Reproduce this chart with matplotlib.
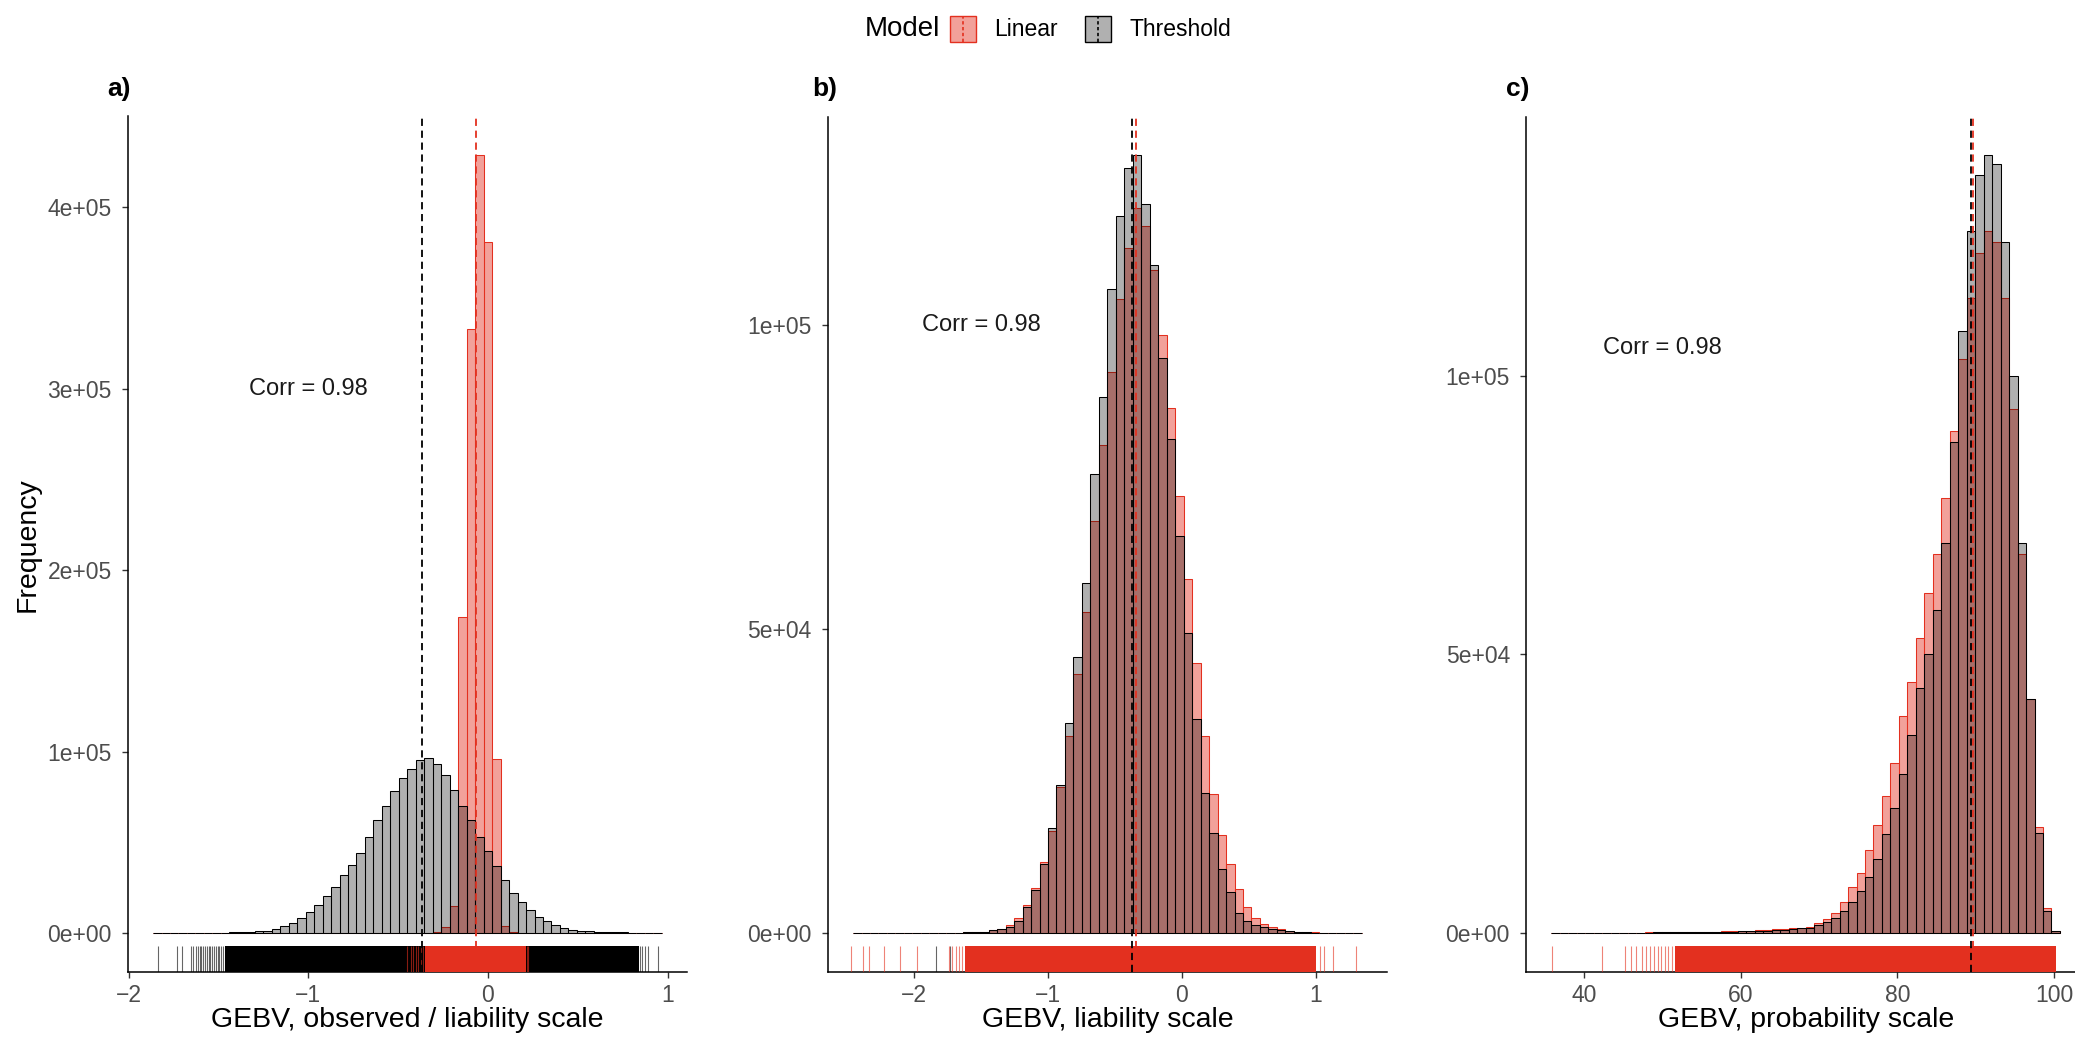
import numpy as np
import matplotlib.pyplot as plt
from matplotlib.colors import to_rgba
from matplotlib.patches import Rectangle
from matplotlib.lines import Line2D
from matplotlib.ticker import FuncFormatter

plt.rcParams['font.family'] = ['Liberation Sans', 'DejaVu Sans']

RED = '#E3301F'
W, H = 2075, 1038

# histogram counts are in thousands, 60 equal bins spanning each range
# a) linear model on observed scale vs threshold model on liability scale
range_a = (-1.864, 0.967)
linear_a = [0, 0, 0, 0, 0, 0, 0, 0, 0, 0,
            0, 0, 0, 0, 0, 0, 0, 0, 0, 0,
            0, 0, 0, 0, 0, 0, 0, 0, 0, 0,
            0, 0, 0.1, 0.5, 3, 15, 174, 333, 428.6, 381,
            96, 4, 0.6, 0.15, 0.05, 0, 0, 0, 0, 0,
            0, 0, 0, 0, 0, 0, 0, 0, 0, 0]
threshold_a = [0.01, 0.02, 0.02, 0.04, 0.05, 0.08, 0.1, 0.15, 0.2, 0.28,
               0.4, 0.6, 0.9, 1.3, 2.1, 3.9, 5.6, 8.2, 11.5, 15.5,
               20.5, 25.5, 32, 37.5, 44, 53, 62, 70, 78, 85.5,
               90.5, 95.5, 96.2, 93, 87, 79, 70, 62, 53, 45,
               37, 29, 22, 17, 12.5, 9.0, 6.3, 4.2, 2.6, 1.7,
               1.1, 0.8, 0.6, 0.45, 0.35, 0.25, 0.18, 0.12, 0.06, 0.03]
means_a = (-0.066, -0.365)   # linear, threshold
corr_a = (-1.0, 3.0e5)
xticks_a = [-2, -1, 0, 1]
yticks_a = [0, 1e5, 2e5, 3e5, 4e5]
rug_thr_a = [-1.839, -1.73, -1.70, -1.655, -1.64, -1.625, -1.615, -1.605, -1.595,
             -1.585, -1.575, -1.565, -1.555, -1.545, -1.535, -1.525, -1.515,
             -1.505, -1.495, -1.485, -1.475, 0.845, 0.86, 0.875, 0.89, 0.946]
band_thr_a = (-1.465, 0.84)
rug_lin_a = [-0.45, -0.43, -0.415, -0.40, -0.39, -0.375, -0.36, 0.215, 0.225]
band_lin_a = (-0.35, 0.21)

# b) both models on the liability scale
range_b = (-2.458, 1.344)
linear_b = [0.01, 0, 0.01, 0.01, 0, 0.01, 0, 0, 0, 0,
            0.01, 0.02, 0.04, 0.07, 0.12, 0.22, 0.4, 0.7, 1.3, 2.5,
            4.6, 7.4, 11.6, 16.8, 24, 32.4, 42.6, 52.8, 67.8, 80.4,
            92.4, 104.4, 112.8, 119.4, 116.4, 109.2, 98.4, 86.4, 72, 58.2,
            44.4, 32.4, 22.8, 16.2, 11.4, 7.2, 4.2, 2.4, 1.4, 0.9,
            0.6, 0.35, 0.2, 0.12, 0.07, 0.04, 0.02, 0.01, 0, 0.01]
threshold_b = [0, 0, 0, 0, 0, 0, 0, 0, 0, 0.01,
               0.01, 0.02, 0.04, 0.08, 0.13, 0.2, 0.4, 0.65, 1.0, 2.0,
               4.2, 7.0, 11.3, 17.3, 24.3, 34.5, 45.4, 57.6, 75.5, 88.3,
               106, 118, 126, 128, 120, 110, 94.7, 81.3, 65.3, 49.3,
               35.2, 23, 16.4, 10.5, 6.7, 3.3, 2.0, 1.3, 0.9, 0.6,
               0.4, 0.25, 0.15, 0.07, 0, 0, 0, 0, 0, 0]
means_b = (-0.341, -0.375)
corr_b = (-1.5, 1.0e5)
xticks_b = [-2, -1, 0, 1]
yticks_b = [0, 5e4, 1e5]
rug_thr_b = [-1.84, -1.73]
band_thr_b = (-1.46, 0.84)
rug_lin_b = [-2.47, -2.38, -2.34, -2.23, -2.11, -1.98, -1.74, -1.715, -1.69,
             -1.665, -1.645, 1.03, 1.06, 1.13, 1.30]
band_lin_b = (-1.62, 1.0)

# c) both models on the probability scale
range_c = (35.85, 100.75)
linear_c = [0.01, 0.01, 0.01, 0.02, 0.02, 0.03, 0.04, 0.04, 0.05, 0.06,
            0.07, 0.08, 0.1, 0.11, 0.13, 0.15, 0.17, 0.19, 0.22, 0.25,
            0.28, 0.32, 0.36, 0.41, 0.47, 0.54, 0.62, 0.72, 0.83, 0.95,
            1.1, 1.8, 2.5, 3.6, 5.5, 8.2, 10.8, 14.8, 19.3, 24.5,
            30.5, 39, 45, 53, 61, 68, 78, 90, 103, 114,
            122, 126, 124, 114, 94, 68, 42, 19, 4.5, 0.3]
threshold_c = [0.01, 0, 0.01, 0.02, 0.01, 0.02, 0.03, 0.03, 0.04, 0.05,
               0.06, 0.07, 0.08, 0.09, 0.1, 0.12, 0.13, 0.15, 0.17, 0.2,
               0.22, 0.25, 0.28, 0.32, 0.36, 0.42, 0.5, 0.58, 0.68, 0.8,
               0.95, 1.4, 1.9, 2.7, 3.9, 5.5, 7.6, 10.0, 13.3, 17.8,
               22.5, 28.5, 35.5, 44, 50, 58, 70, 88, 108, 126,
               136, 139.5, 138, 124, 100, 70, 42, 18, 4, 0.3]
means_c = (89.7, 89.35)
corr_c = (50, 1.05e5)
xticks_c = [40, 60, 80, 100]
yticks_c = [0, 5e4, 1e5]
rug_thr_c = []
band_thr_c = (52.0, 99.8)
rug_lin_c = [35.9, 42.3, 45.2, 46.0, 46.6, 47.4, 47.9, 48.5, 48.9, 49.4,
             49.9, 50.3, 50.8, 51.2]
band_lin_c = (51.6, 100.2)


def sci(v, _):
    return f"{v:.0e}"


def panel(ax, rng, lin, thr, means, corr, xticks, yticks,
          rug_thr, band_thr, rug_lin, band_lin, xlabel):
    lin = np.asarray(lin) * 1e3
    thr = np.asarray(thr) * 1e3
    edges = np.linspace(rng[0], rng[1], len(lin) + 1)
    w = edges[1] - edges[0]
    ax.bar(edges[:-1], lin, width=w, align='edge',
           facecolor=to_rgba(RED, 0.45), edgecolor=RED, linewidth=0.75, zorder=2)
    ax.bar(edges[:-1], thr, width=w, align='edge',
           facecolor=(0, 0, 0, 0.31), edgecolor='black', linewidth=0.75, zorder=2)

    # rug along the bottom of the panel
    tr = ax.get_xaxis_transform()
    ax.axvspan(*band_thr, 0, 0.03, color='black', lw=0, zorder=3)
    if rug_thr:
        ax.vlines(rug_thr, 0, 0.03, transform=tr, colors='black',
                  lw=0.8, alpha=0.6, zorder=3)
    ax.axvspan(*band_lin, 0, 0.03, color=RED, lw=0, zorder=3)
    ax.vlines(rug_lin, 0, 0.03, transform=tr, colors=RED,
              lw=0.8, alpha=0.6, zorder=3)

    ax.axvline(means[0], color=RED, ls=(0, (4, 2.6)), lw=1.3, zorder=4)
    ax.axvline(means[1], color='black', ls=(0, (4, 2.6)), lw=1.3, zorder=4)

    ax.text(corr[0], corr[1], 'Corr = 0.98', ha='center', va='center',
            fontsize=17, color='#1a1a1a')

    span = rng[1] - rng[0]
    ax.set_xlim(rng[0] - 0.05 * span, rng[1] + 0.05 * span)
    top = max(lin.max(), thr.max())
    ax.set_ylim(-0.05 * top, 1.05 * top)
    ax.set_xticks(xticks)
    ax.set_yticks(yticks)
    ax.yaxis.set_major_formatter(FuncFormatter(sci))

    for s in ('top', 'right'):
        ax.spines[s].set_visible(False)
    for s in ('left', 'bottom'):
        ax.spines[s].set_linewidth(1.1)
    ax.tick_params(length=4.5, width=1.0, color='#333333',
                   labelsize=16.5, labelcolor='#4D4D4D')
    ax.tick_params(axis='y', pad=7)
    ax.tick_params(axis='x', pad=4.5)

    ax.set_xlabel(xlabel, fontsize=20.5)
    ax.xaxis.set_label_coords(0.5, -(1020 - 971.8) / 855.3)
    ax.xaxis.label.set_va('center')


fig = plt.figure(figsize=(20.75, 10.38), dpi=100)

bottom = 1 - 971.8 / H
height = 855.3 / H
width = 559.5 / W
ax_a = fig.add_axes([127.6 / W, bottom, width, height])
ax_b = fig.add_axes([827.6 / W, bottom, width, height])
ax_c = fig.add_axes([1525.9 / W, bottom, width, height])

panel(ax_a, range_a, linear_a, threshold_a, means_a, corr_a, xticks_a, yticks_a,
      rug_thr_a, band_thr_a, rug_lin_a, band_lin_a, 'GEBV, observed / liability scale')
panel(ax_b, range_b, linear_b, threshold_b, means_b, corr_b, xticks_b, yticks_b,
      rug_thr_b, band_thr_b, rug_lin_b, band_lin_b, 'GEBV, liability scale')
panel(ax_c, range_c, linear_c, threshold_c, means_c, corr_c, xticks_c, yticks_c,
      rug_thr_c, band_thr_c, rug_lin_c, band_lin_c, 'GEBV, probability scale')

ax_a.set_ylabel('Frequency', fontsize=20.5)
ax_a.yaxis.set_label_coords((28 - 127.6) / 559.5, 0.5)
ax_a.yaxis.label.set_va('center')

for lab, x in (('a)', 107), ('b)', 812), ('c)', 1506)):
    fig.text(x / W, 1 - 89 / H, lab, fontsize=19, fontweight='bold',
             ha='left', va='center')

# legend across the top
fig.text(865 / W, 1 - 29 / H, 'Model', fontsize=20, ha='left', va='center')
keys = [('Linear', to_rgba(RED, 0.45), RED, 950, 994),
        ('Threshold', (0, 0, 0, 0.31), 'black', 1085, 1129)]
for name, fc, ec, kx, tx in keys:
    y0, y1 = 16, 42
    fig.add_artist(Rectangle((kx / W, 1 - y1 / H), 26 / W, (y1 - y0) / H,
                             transform=fig.transFigure, facecolor=fc,
                             edgecolor=ec, linewidth=1.0))
    xc = (kx + 13) / W
    fig.add_artist(Line2D([xc, xc], [1 - y1 / H, 1 - y0 / H],
                          transform=fig.transFigure, color=ec,
                          ls=(0, (2, 1.5)), lw=1.2))
    fig.text(tx / W, 1 - 29 / H, name, fontsize=16.5, ha='left', va='center')

fig.savefig('out.png', dpi=100)
